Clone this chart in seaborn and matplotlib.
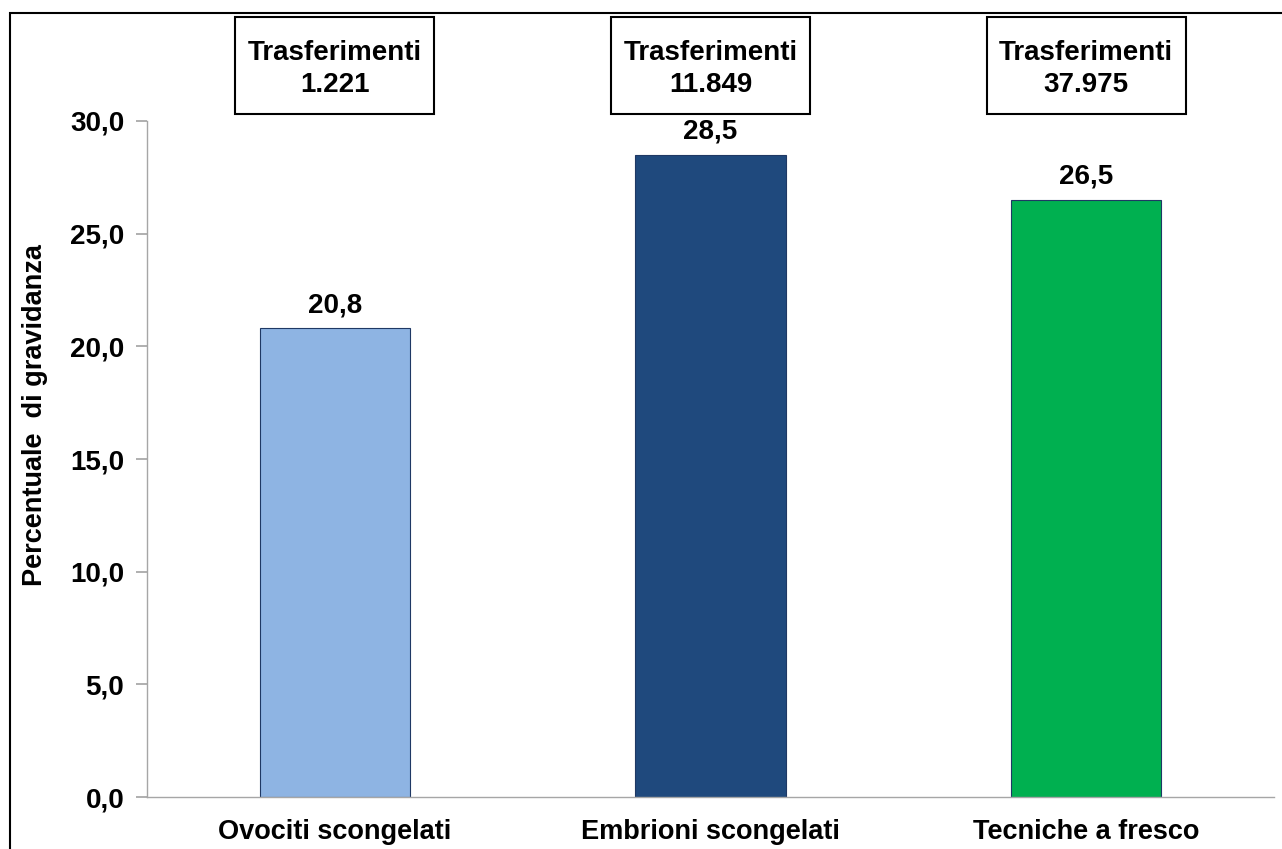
import matplotlib
matplotlib.use("Agg")
import matplotlib.pyplot as plt
import seaborn as sns
import pandas as pd
from matplotlib.patches import Rectangle

categories = ["Ovociti scongelati", "Embrioni scongelati", "Tecniche a fresco"]
pregnancy_rate = [20.8, 28.5, 26.5]
transfers = ["1.221", "11.849", "37.975"]
bar_colors = ["#8EB4E3", "#1F497D", "#00B050"]
yticks = [0, 5, 10, 15, 20, 25, 30]

df = pd.DataFrame({"tecnica": categories, "perc": pregnancy_rate})

sns.set_theme(style="white")
plt.rcParams["font.family"] = ["Liberation Sans", "DejaVu Sans"]
plt.rcParams["font.weight"] = "bold"
plt.rcParams["text.color"] = "black"
plt.rcParams["xtick.labelcolor"] = "black"
plt.rcParams["ytick.labelcolor"] = "black"
plt.rcParams["axes.labelcolor"] = "black"

fig = plt.figure(figsize=(12.82, 8.49), dpi=100)
ax = fig.add_axes([0.1147, 0.0612, 0.8791, 0.7963])

sns.barplot(data=df, x="tecnica", y="perc", hue="tecnica", palette=bar_colors,
            saturation=1, width=0.4, edgecolor="#1F3864", linewidth=0.8,
            legend=False, ax=ax)

ax.set_ylim(0, 30)
ax.set_xlim(-0.5, len(categories) - 0.5)
ax.set_yticks(yticks)
ax.set_yticklabels([f"{v:.1f}".replace(".", ",") for v in yticks], fontsize=20, fontweight="bold")
ax.set_xticks(range(len(categories)))
ax.set_xticklabels(categories, fontsize=19.5, fontweight="bold")
ax.set_xticks([i - 0.5 for i in range(len(categories) + 1)], minor=True)
ax.tick_params(axis="x", which="major", length=0, pad=16)
ax.tick_params(axis="x", which="minor", length=8, color="#A6A6A6", direction="out")
ax.tick_params(axis="y", length=8, color="#A6A6A6", direction="out", pad=8.5, left=True)

for side in ["top", "right"]:
    ax.spines[side].set_visible(False)
for side in ["left", "bottom"]:
    ax.spines[side].set_color("#A6A6A6")
    ax.spines[side].set_linewidth(1.0)

ax.set_xlabel("")
ax.set_ylabel("Percentuale  di gravidanza", fontsize=19.5, fontweight="bold")
ax.yaxis.set_label_coords(-0.088, 0.565)

# valori sopra le barre
for i, v in enumerate(pregnancy_rate):
    ax.text(i, v + 0.45, f"{v:.1f}".replace(".", ","), ha="center", va="bottom",
            fontsize=20, fontweight="bold")

# riquadri trasferimenti
box_w = 0.53
for i, t in enumerate(transfers):
    ax.add_patch(Rectangle((i - box_w / 2, 30.3), box_w, 4.3, facecolor="white",
                           edgecolor="black", linewidth=1.5, clip_on=False))
    ax.text(i, 32.3, "Trasferimenti\n" + t, ha="center", va="center",
            fontsize=20, fontweight="bold", linespacing=1.3, clip_on=False)

# cornice della figura
fig.add_artist(Rectangle((10 / 1282, -0.5), 1.5, 1.5 - 13 / 849, transform=fig.transFigure,
                         facecolor="none", edgecolor="black", linewidth=1.5))

fig.savefig("out.png", dpi=100)
